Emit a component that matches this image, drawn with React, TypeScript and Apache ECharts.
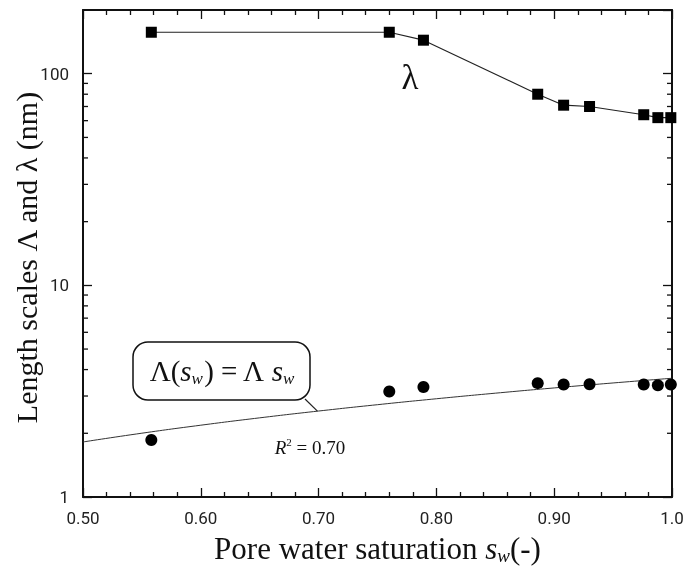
import { useEffect, useRef } from 'react';
import * as echarts from 'echarts';

// Pore water saturation values (x) shared by both measured series
const S_W = [0.558, 0.76, 0.789, 0.886, 0.908, 0.93, 0.976, 0.988, 0.999];
// λ (nm) – squares joined by a line
const LAMBDA_SMALL = [157, 157, 144, 80, 71, 70, 64, 62, 62];
// Λ (nm) – filled circles
const LAMBDA_BIG = [1.86, 3.15, 3.31, 3.45, 3.4, 3.41, 3.4, 3.37, 3.4];
// Fitted model Λ(s_w) = Λ s_w
const FIT_LAMBDA = 3.64;
const FIT_S = [0.5, 0.55, 0.6, 0.65, 0.7, 0.75, 0.8, 0.85, 0.9, 0.95, 1.0];
// Axis ranges
const X_MIN = 0.5;
const X_MAX = 1.0;
const X_STEP = 0.1;
const Y_MIN = 1;
const Y_MAX = 200;
const Y_MINOR = [2, 3, 4, 5, 6, 7, 8, 9, 20, 30, 40, 50, 60, 70, 80, 90];
const R2_TEXT = '0.70';
const Y_TITLE = 'Length scales Λ and λ (nm)';

export default function App() {
  const ref = useRef<HTMLDivElement>(null);
  useEffect(() => {
    const chart = echarts.init(ref.current!, null, { renderer: 'svg' });
    const serif = "'Liberation Serif', 'DejaVu Serif', serif";
    const sans = "Roboto, 'Liberation Sans', sans-serif";
    const black = '#111';
    const axisLine = { show: true, onZero: false, lineStyle: { color: black, width: 2 } };
    const tickStyle = { color: black, width: 1.3 };
    const xCommon: any = {
      type: 'value',
      min: X_MIN,
      max: X_MAX,
      interval: X_STEP,
      axisLine,
      axisTick: { show: true, inside: true, length: 9, lineStyle: tickStyle },
      minorTick: { show: true, splitNumber: 5, length: 5, lineStyle: tickStyle },
      splitLine: { show: false },
      minorSplitLine: { show: false },
    };
    const yCommon: any = {
      type: 'log',
      logBase: 10,
      min: Y_MIN,
      max: Y_MAX,
      axisLine,
      axisTick: { show: true, inside: true, length: 9, lineStyle: tickStyle },
      splitLine: { show: false },
    };
    const grid = { left: 83, right: 13, top: 10, bottom: 69, outerBoundsMode: 'none', containLabel: false };
    chart.setOption({
      animation: false,
      grid,
      xAxis: [
        {
          ...xCommon,
          position: 'bottom',
          name: '{n|Pore water saturation }{s|s}{w|w}{n|(-)}',
          nameLocation: 'middle',
          nameGap: 35,
          nameTextStyle: {
            rich: {
              n: { fontFamily: serif, fontSize: 31, color: '#111' },
              s: { fontFamily: serif, fontSize: 31, fontStyle: 'italic', color: '#111' },
              w: { fontFamily: serif, fontSize: 19, fontStyle: 'italic', color: '#111', padding: [14, 0, 0, 0] },
            },
          },
          axisLabel: {
            show: true,
            margin: 12,
            fontFamily: sans,
            fontSize: 17,
            color: '#222',
            formatter: (v: number) => (v === 1 ? '1.0' : v.toFixed(2)),
          },
        },
        { ...xCommon, position: 'top', axisLabel: { show: false } },
      ],
      yAxis: [
        {
          ...yCommon,
          position: 'left',
          axisLabel: {
            show: true,
            margin: 14,
            fontFamily: sans,
            fontSize: 17,
            color: '#222',
            showMaxLabel: false,
            formatter: (v: number) => String(v),
          },
        },
        { ...yCommon, position: 'right', axisLabel: { show: false } },
      ],
      series: [
        {
          type: 'line',
          name: 'λ',
          data: S_W.map((x, i) => [x, LAMBDA_SMALL[i]]),
          symbol: 'rect',
          symbolSize: 11,
          lineStyle: { color: '#222', width: 1.2 },
          itemStyle: { color: '#000', opacity: 1 },
          clip: false,
          z: 3,
        },
        {
          type: 'line',
          name: 'fit',
          data: FIT_S.map((s) => [s, FIT_LAMBDA * s]),
          symbol: 'none',
          smooth: true,
          lineStyle: { color: '#333', width: 1 },
          z: 2,
        },
        {
          type: 'scatter',
          name: 'Λ',
          data: S_W.map((x, i) => [x, LAMBDA_BIG[i]]),
          symbol: 'circle',
          symbolSize: 12,
          itemStyle: { color: '#000', opacity: 1 },
          clip: false,
          z: 4,
        },
      ],
    });

    const xl = chart.convertToPixel({ xAxisIndex: 0 }, X_MIN) as number;
    const xr = chart.convertToPixel({ xAxisIndex: 0 }, X_MAX) as number;
    const yb = chart.convertToPixel({ yAxisIndex: 0 }, Y_MIN) as number;
    const yt = chart.convertToPixel({ yAxisIndex: 0 }, Y_MAX) as number;
    const ticks: any[] = [];
    Y_MINOR.forEach((v) => {
      const y = chart.convertToPixel({ yAxisIndex: 0 }, v) as number;
      ticks.push({ type: 'line', shape: { x1: xl, y1: y, x2: xl + 5, y2: y }, style: { stroke: black, lineWidth: 1.3 }, silent: true });
      ticks.push({ type: 'line', shape: { x1: xr - 5, y1: y, x2: xr, y2: y }, style: { stroke: black, lineWidth: 1.3 }, silent: true });
    });
    const sPtr = 0.699;
    const ptrEnd = chart.convertToPixel({ xAxisIndex: 0, yAxisIndex: 0 }, [sPtr, FIT_LAMBDA * sPtr]) as number[];

    chart.setOption({
      graphic: [
        ...ticks,
        {
          type: 'text',
          x: 26,
          y: (yb + yt) / 2 + 4,
          rotation: Math.PI / 2,
          style: {
            text: Y_TITLE,
            align: 'center',
            verticalAlign: 'middle',
            fontFamily: serif,
            fontSize: 30,
            fill: '#111',
          },
        },
        {
          type: 'line',
          shape: { x1: 305, y1: 399, x2: ptrEnd[0], y2: ptrEnd[1] },
          style: { stroke: '#222', lineWidth: 1.2 },
          z: 10,
        },
        {
          type: 'rect',
          shape: { x: 133, y: 342, width: 177, height: 58, r: 15 },
          style: { fill: '#fff', stroke: '#111', lineWidth: 1.5 },
          z: 11,
        },
        {
          type: 'text',
          x: 222,
          y: 371,
          z: 12,
          style: {
            text: '{n|Λ(}{s|s}{w|w}{n|) = Λ }{s|s}{w|w}',
            align: 'center',
            verticalAlign: 'middle',
            rich: {
              n: { fontFamily: serif, fontSize: 29, fill: '#111' },
              s: { fontFamily: serif, fontSize: 29, fontStyle: 'italic', fill: '#111' },
              w: { fontFamily: serif, fontSize: 17, fontStyle: 'italic', fill: '#111', padding: [14, 0, 0, 0] },
            },
          },
        },
        {
          type: 'text',
          x: 410,
          y: 77,
          z: 12,
          style: {
            text: 'λ',
            align: 'center',
            verticalAlign: 'middle',
            fontFamily: serif,
            fontSize: 35,
            fill: '#111',
          },
        },
        {
          type: 'text',
          x: 310,
          y: 447,
          z: 12,
          style: {
            text: '{r|R}{sup|2}{n| = ' + R2_TEXT + '}',
            align: 'center',
            verticalAlign: 'middle',
            rich: {
              r: { fontFamily: serif, fontSize: 19, fontStyle: 'italic', fill: '#111' },
              sup: { fontFamily: serif, fontSize: 11, fill: '#111', padding: [0, 0, 10, 0] },
              n: { fontFamily: serif, fontSize: 19, fill: '#111' },
            },
          },
        },
      ],
    });

    return () => chart.dispose();
  }, []);
  return <div ref={ref} style={{ position: 'fixed', left: 0, top: 0, width: 685, height: 566 }} />;
}
